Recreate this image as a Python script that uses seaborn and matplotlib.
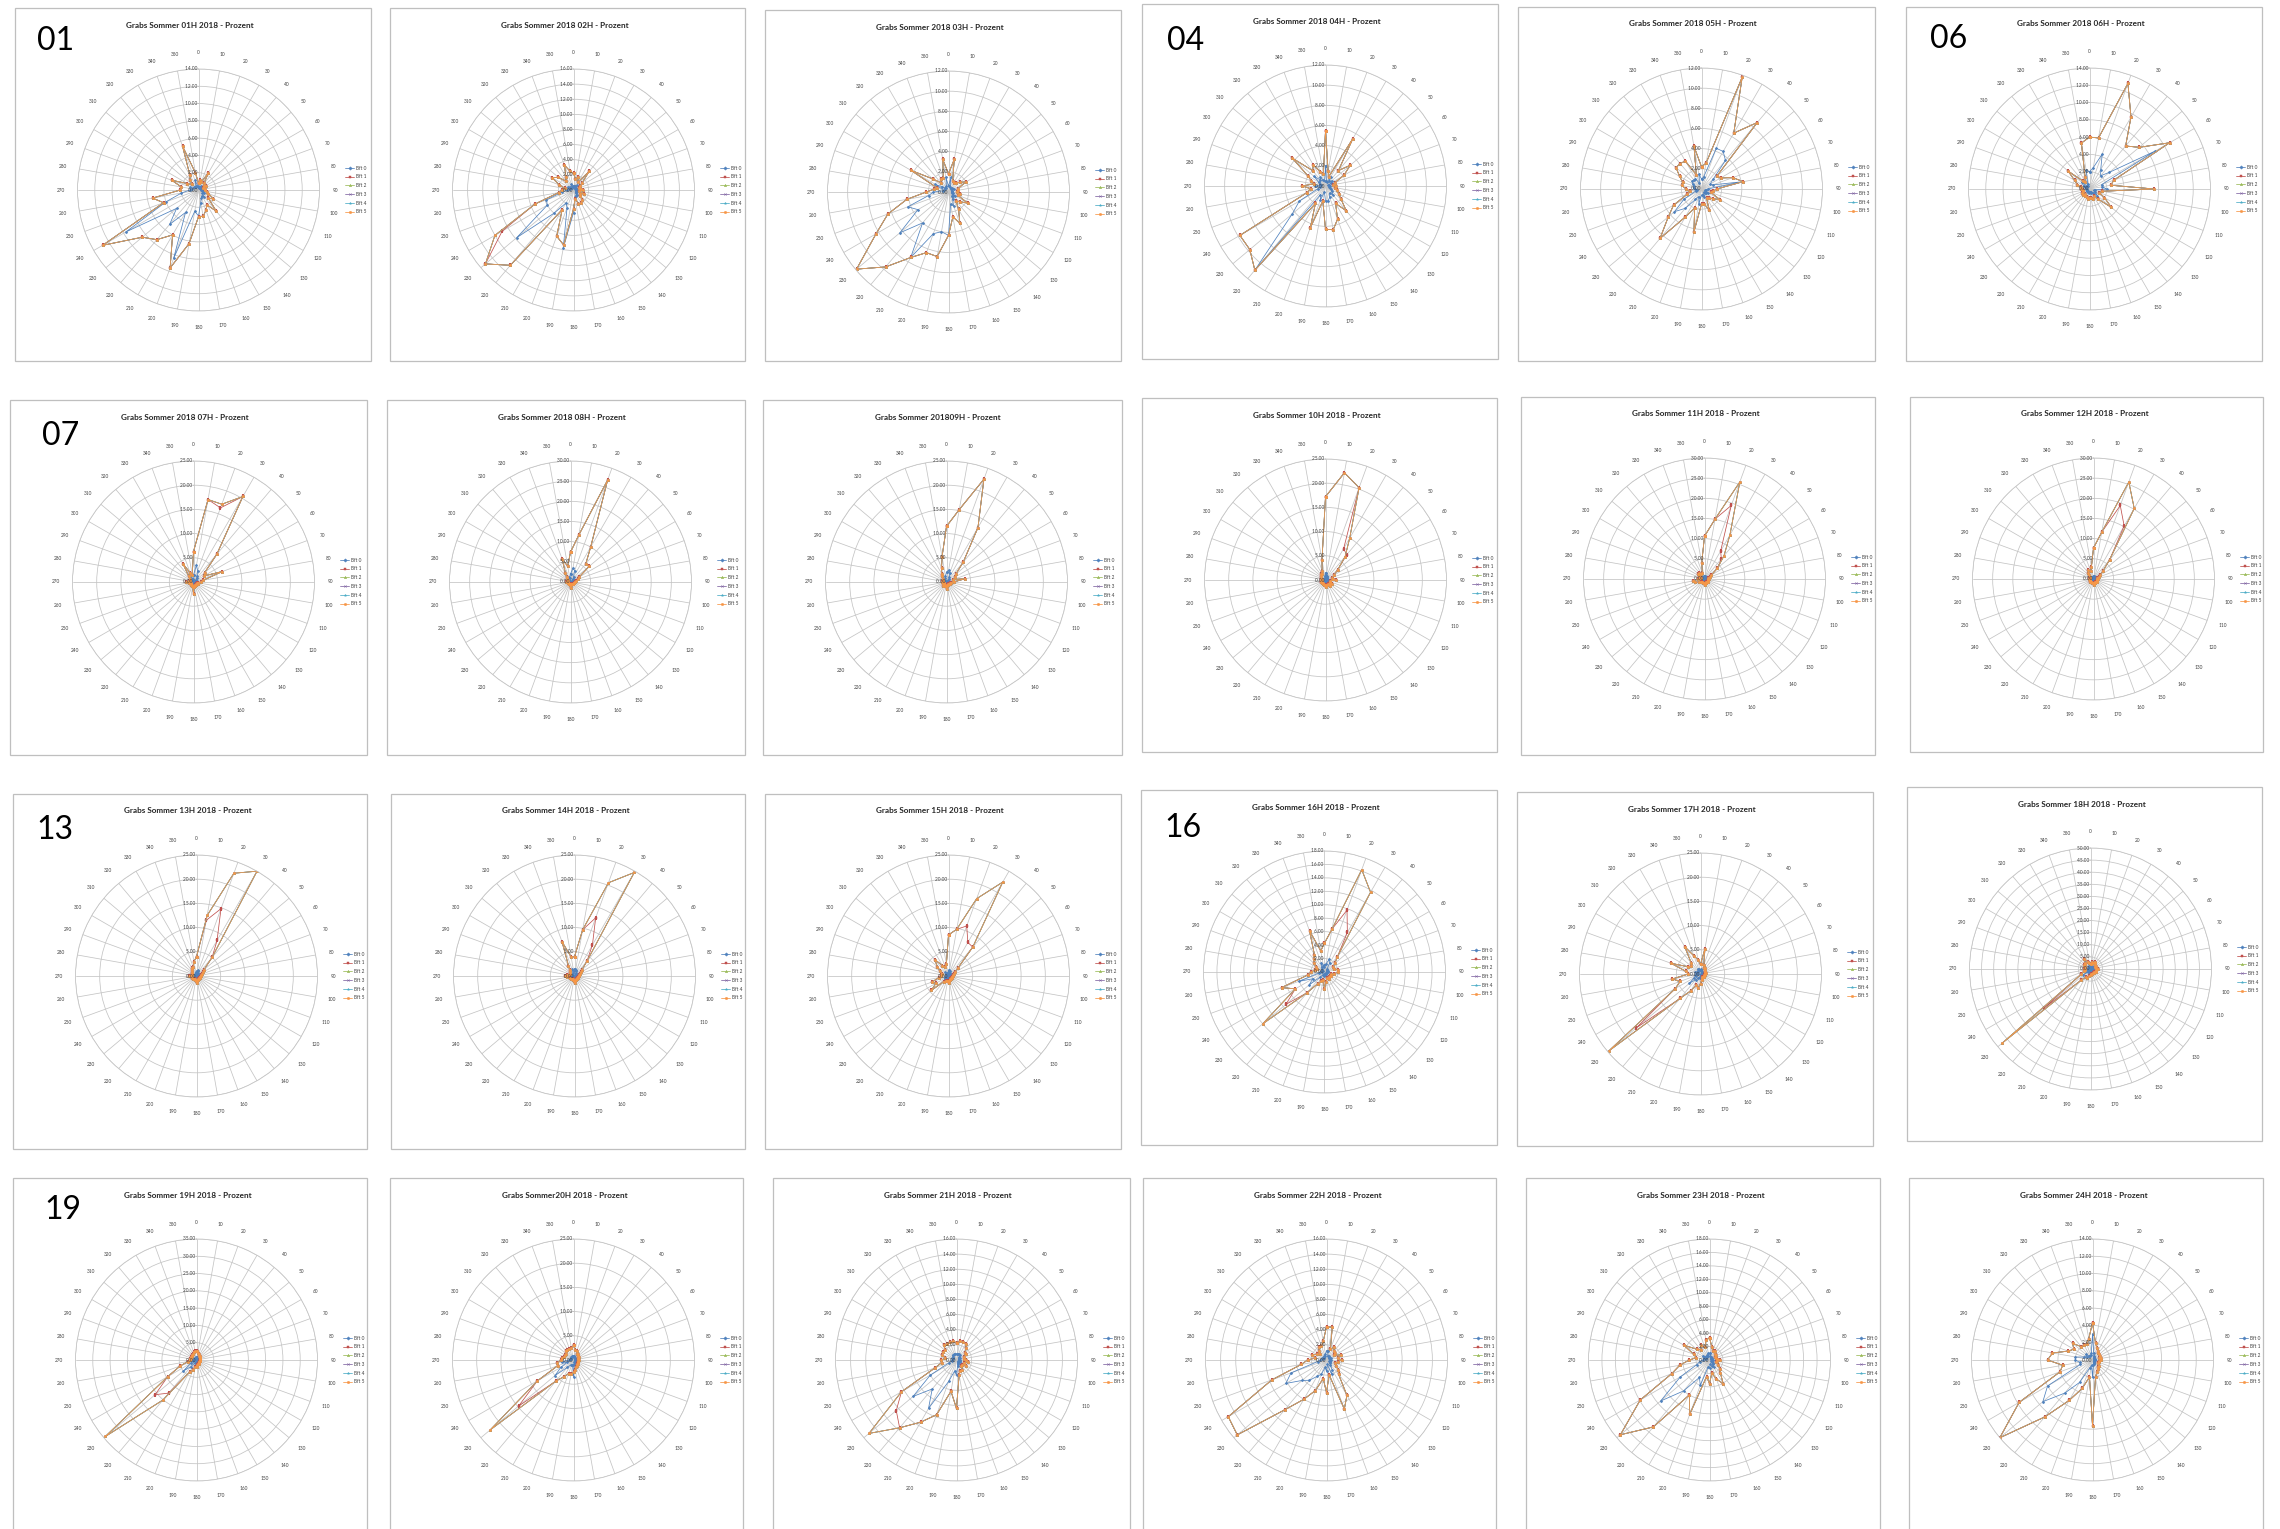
import numpy as np
import matplotlib
matplotlib.use('Agg')
import matplotlib.pyplot as plt
from matplotlib.patches import Rectangle
from matplotlib.lines import Line2D
import seaborn as sns

sns.set_style('white')
plt.rcParams['font.family'] = ['Lato', 'DejaVu Sans']

W, H = 2280, 1529
R = 121  # radius of each radar circle in pixels

DIRECTIONS = list(range(0, 360, 10))
BFT_LABELS = ['Bft 0', 'Bft 1', 'Bft 2', 'Bft 3', 'Bft 4', 'Bft 5']
BFT_COLORS = ['#4F81BD', '#C0504D', '#9BBB59', '#8064A2', '#4BACC6', '#F79646']
BFT_MARKERS = ['D', 's', '^', 'x', '*', 'o']

HOURS = ['01', '02', '03', '04', '05', '06', '07', '08', '09', '10', '11', '12',
         '13', '14', '15', '16', '17', '18', '19', '20', '21', '22', '23', '24']
TITLES = [
    'Grabs Sommer 01H 2018 - Prozent', 'Grabs Sommer 2018 02H - Prozent',
    'Grabs Sommer 2018 03H - Prozent', 'Grabs Sommer 2018 04H - Prozent',
    'Grabs Sommer 2018 05H - Prozent', 'Grabs Sommer 2018 06H - Prozent',
    'Grabs Sommer 2018 07H - Prozent', 'Grabs Sommer 2018 08H - Prozent',
    'Grabs Sommer 201809H - Prozent', 'Grabs Sommer 10H 2018 - Prozent',
    'Grabs Sommer 11H 2018 - Prozent', 'Grabs Sommer 12H 2018 - Prozent',
    'Grabs Sommer 13H 2018 - Prozent', 'Grabs Sommer 14H 2018 - Prozent',
    'Grabs Sommer 15H 2018 - Prozent', 'Grabs Sommer 16H 2018 - Prozent',
    'Grabs Sommer 17H 2018 - Prozent', 'Grabs Sommer 18H 2018 - Prozent',
    'Grabs Sommer 19H 2018 - Prozent', 'Grabs Sommer20H 2018 - Prozent',
    'Grabs Sommer 21H 2018 - Prozent', 'Grabs Sommer 22H 2018 - Prozent',
    'Grabs Sommer 23H 2018 - Prozent', 'Grabs Sommer 24H 2018 - Prozent',
]
AXIS_MAX = [14, 16, 12, 12, 12, 14, 25, 30, 25, 25, 30, 30,
            25, 25, 25, 18, 25, 50, 35, 25, 16, 16, 18, 14]
AXIS_STEP = [2, 2, 2, 2, 2, 2, 5, 5, 5, 5, 5, 5,
             5, 5, 5, 2, 5, 5, 5, 5, 2, 2, 2, 2]

# handwritten hour numbers on some screenshots
BIG_LABELS = {'01': (22, 42), '04': (25, 46), '06': (24, 41), '07': (32, 45),
              '13': (23, 45), '16': (23, 47), '19': (31, 41)}

# percent per direction (0..350 deg), Bft 0 and Bft 5; Bft 1-4 lie under Bft 5
H01_BFT0 = [0.3, 0.4, 0.3, 0.5, 0.3, 0.3, 0.4, 0.3, 0.3, 0.4, 0.5, 0.5, 0.8, 0.6, 1.0, 0.8, 1.0, 1.5, 3.0, 2.5, 8.4, 3.0, 5.2, 3.3, 9.7, 4.0, 2.0, 1.0, 0.8, 1.0, 0.6, 0.5, 0.5, 0.6, 1.2, 0.5]
H01_BFT5 = [0.8, 1.2, 1.0, 2.3, 1.0, 0.8, 1.0, 0.6, 0.8, 0.8, 1.0, 1.2, 2.0, 1.5, 3.2, 2.0, 2.5, 3.1, 3.1, 6.3, 9.6, 6.0, 7.5, 8.5, 12.8, 4.3, 5.4, 2.1, 2.0, 3.3, 1.5, 1.0, 1.5, 2.0, 5.4, 2.0]
H02_BFT0 = [0.5, 0.4, 0.5, 0.4, 0.8, 0.4, 0.3, 0.3, 0.4, 0.5, 0.4, 0.5, 0.4, 0.5, 0.6, 0.8, 0.8, 1.0, 3.0, 7.8, 2.5, 2.0, 4.0, 9.8, 4.0, 3.8, 1.5, 0.8, 0.5, 0.6, 0.8, 0.6, 0.4, 0.5, 0.8, 0.6]
H02_BFT5 = [2.2, 1.5, 1.8, 1.2, 3.2, 1.5, 1.0, 0.8, 1.0, 1.2, 0.8, 1.5, 1.0, 1.2, 1.8, 2.0, 1.9, 1.2, 2.5, 7.4, 6.5, 3.0, 13.0, 15.2, 12.0, 5.4, 2.0, 1.5, 1.2, 2.0, 3.3, 2.6, 1.5, 2.0, 3.5, 2.5]
H03_BFT0 = [0.6, 1.5, 0.5, 0.4, 0.5, 0.5, 0.6, 0.4, 0.4, 0.3, 0.5, 0.4, 0.8, 0.6, 0.5, 0.8, 1.5, 1.2, 4.3, 4.0, 4.4, 7.5, 4.0, 6.3, 3.5, 4.3, 2.0, 1.5, 0.6, 0.5, 1.5, 0.8, 0.5, 0.5, 0.6, 1.5]
H03_BFT5 = [1.8, 3.3, 1.2, 1.0, 1.2, 1.5, 2.0, 1.0, 1.0, 0.8, 1.2, 1.0, 2.2, 1.5, 1.2, 2.0, 3.3, 2.5, 4.3, 6.5, 6.4, 7.5, 9.7, 11.9, 8.3, 6.4, 4.2, 2.2, 1.5, 1.2, 4.3, 2.0, 1.2, 1.5, 1.5, 3.3]
H04_BFT0 = [2.0, 0.5, 0.4, 1.0, 0.6, 0.8, 0.6, 0.4, 0.3, 0.4, 0.4, 0.5, 0.6, 0.8, 1.2, 0.8, 1.2, 1.5, 1.5, 0.6, 1.5, 1.0, 10.9, 4.3, 3.0, 0.8, 0.6, 1.0, 0.5, 0.6, 0.8, 1.5, 0.8, 1.0, 0.6, 0.5]
H04_BFT5 = [5.5, 1.5, 1.0, 5.4, 2.0, 3.2, 2.1, 1.0, 0.8, 1.0, 1.0, 1.2, 1.5, 2.0, 3.2, 2.0, 3.5, 4.4, 4.3, 1.5, 4.4, 2.0, 10.9, 9.8, 9.8, 2.0, 1.5, 2.3, 1.2, 1.5, 2.0, 4.3, 2.0, 2.4, 1.5, 1.2]
H05_BFT0 = [1.0, 1.2, 4.3, 4.3, 3.7, 1.5, 1.0, 1.2, 4.2, 0.6, 0.5, 0.4, 0.8, 0.6, 0.5, 0.4, 0.8, 0.6, 0.6, 1.5, 0.8, 1.2, 2.5, 3.5, 2.0, 0.6, 0.5, 0.6, 0.8, 0.8, 1.0, 1.2, 1.2, 1.2, 0.6, 1.5]
H05_BFT5 = [2.2, 2.6, 11.8, 6.4, 8.6, 2.0, 2.2, 3.3, 4.2, 1.5, 1.2, 1.0, 2.1, 1.5, 1.2, 1.0, 2.2, 1.5, 1.5, 4.3, 2.0, 3.2, 6.4, 4.3, 3.2, 1.5, 1.2, 1.5, 2.0, 2.0, 2.5, 3.3, 3.3, 3.2, 1.5, 4.3]
H06_BFT0 = [2.0, 2.5, 4.3, 2.6, 2.0, 3.0, 8.8, 1.5, 1.5, 2.0, 0.6, 0.5, 0.8, 1.2, 0.6, 0.4, 0.5, 0.4, 0.4, 0.5, 0.4, 0.4, 0.3, 0.4, 0.4, 0.3, 0.3, 0.4, 0.4, 0.6, 0.8, 1.2, 0.5, 0.4, 0.6, 2.2]
H06_BFT5 = [6.0, 6.0, 13.0, 9.6, 6.5, 7.5, 10.7, 3.0, 2.5, 7.5, 1.5, 1.2, 2.0, 3.3, 1.5, 1.0, 1.2, 1.0, 1.0, 1.2, 1.0, 1.0, 0.8, 1.0, 1.0, 0.8, 0.8, 1.0, 1.0, 1.5, 2.0, 3.2, 1.2, 1.0, 1.5, 5.4]
H07_BFT0 = [1.5, 3.5, 2.5, 1.5, 1.0, 0.6, 0.5, 0.8, 0.5, 0.4, 0.3, 0.3, 0.3, 0.3, 0.3, 0.2, 0.3, 0.3, 0.8, 0.3, 0.3, 0.3, 0.3, 0.2, 0.2, 0.3, 0.3, 0.5, 0.3, 0.3, 0.3, 0.3, 0.5, 1.0, 0.6, 0.5]
H07_BFT5 = [6.3, 17.3, 17.1, 20.4, 7.5, 3.0, 2.5, 6.3, 2.0, 1.5, 1.0, 0.8, 1.0, 0.8, 0.8, 0.6, 0.8, 1.0, 2.5, 1.0, 0.8, 0.8, 0.8, 0.6, 0.6, 0.8, 1.0, 1.5, 1.0, 0.8, 0.8, 1.0, 1.5, 4.3, 2.0, 1.5]
H08_BFT0 = [2.0, 3.5, 3.0, 1.5, 1.0, 0.8, 0.5, 0.4, 0.3, 0.3, 0.3, 0.2, 0.2, 0.2, 0.2, 0.2, 0.2, 0.2, 0.5, 0.2, 0.2, 0.2, 0.2, 0.2, 0.2, 0.2, 0.2, 0.3, 0.2, 0.2, 0.2, 0.3, 0.4, 0.6, 1.2, 1.0]
H08_BFT5 = [7.4, 11.8, 26.9, 10.0, 5.9, 6.1, 2.5, 2.0, 1.5, 1.0, 1.0, 0.8, 0.8, 0.6, 0.8, 0.6, 0.6, 0.8, 1.5, 0.8, 0.6, 0.6, 0.6, 0.6, 0.6, 0.6, 0.6, 1.0, 0.8, 0.8, 0.8, 1.0, 1.5, 2.5, 6.0, 4.0]
H09_BFT0 = [2.0, 2.5, 2.0, 1.2, 0.8, 0.5, 0.4, 0.3, 0.6, 0.3, 0.3, 0.2, 0.2, 0.2, 0.2, 0.2, 0.2, 0.2, 0.5, 0.2, 0.2, 0.2, 0.3, 0.2, 0.2, 0.2, 0.2, 0.3, 0.2, 0.2, 0.2, 0.3, 0.4, 0.5, 0.8, 1.2]
H09_BFT5 = [11.5, 15.2, 22.6, 13.0, 5.4, 2.5, 2.0, 1.5, 3.9, 1.5, 1.0, 0.8, 0.8, 0.8, 0.6, 0.6, 0.6, 0.8, 1.5, 0.8, 0.8, 0.8, 1.0, 0.8, 0.8, 0.6, 0.6, 1.0, 0.8, 0.8, 0.8, 1.0, 1.5, 2.0, 3.0, 5.3]
H10_BFT0 = [1.5, 1.0, 0.8, 0.6, 0.5, 0.4, 0.3, 0.3, 0.3, 0.4, 0.2, 0.2, 0.3, 0.3, 0.3, 0.2, 0.3, 0.2, 0.3, 0.2, 0.3, 0.2, 0.2, 0.2, 0.2, 0.2, 0.2, 0.2, 0.2, 0.2, 0.2, 0.3, 0.3, 0.3, 0.4, 0.8]
H10_BFT5 = [17.2, 22.5, 20.3, 10.0, 6.3, 3.3, 2.0, 1.5, 1.5, 2.1, 1.0, 1.0, 1.5, 1.2, 1.5, 1.0, 1.2, 1.0, 1.5, 1.0, 1.2, 1.0, 0.8, 1.0, 1.0, 1.0, 0.8, 1.0, 1.0, 0.8, 1.0, 1.2, 1.5, 1.5, 2.0, 4.2]
H11_BFT0 = [0.8, 0.6, 0.5, 0.4, 0.3, 0.3, 0.2, 0.2, 0.2, 0.2, 0.2, 0.2, 0.2, 0.3, 0.2, 0.2, 0.2, 0.3, 0.4, 0.3, 0.3, 0.3, 0.3, 0.3, 0.4, 0.6, 0.8, 0.4, 0.3, 0.3, 0.4, 0.5, 0.5, 0.4, 0.4, 0.8]
H11_BFT5 = [10.6, 15.1, 25.6, 12.6, 7.5, 4.2, 2.0, 1.5, 1.0, 1.0, 0.8, 0.8, 1.0, 1.2, 1.0, 0.8, 1.0, 1.2, 1.5, 1.0, 1.0, 1.0, 1.0, 1.2, 1.5, 2.5, 3.0, 1.5, 1.2, 1.0, 1.5, 2.0, 2.0, 1.5, 1.5, 4.0]
H12_BFT0 = [0.8, 0.6, 0.5, 0.5, 0.3, 0.3, 0.2, 0.2, 0.2, 0.2, 0.2, 0.2, 0.2, 0.2, 0.2, 0.2, 0.2, 0.2, 0.4, 0.2, 0.2, 0.2, 0.2, 0.2, 0.2, 0.2, 0.2, 0.3, 0.2, 0.2, 0.2, 0.3, 0.5, 0.6, 0.5, 0.6]
H12_BFT5 = [7.7, 11.8, 25.6, 20.2, 6.2, 3.0, 2.0, 1.5, 1.0, 1.0, 0.8, 0.8, 1.0, 1.0, 1.0, 0.8, 1.0, 1.0, 1.5, 1.0, 1.0, 1.0, 1.0, 1.0, 1.0, 1.0, 1.0, 1.2, 1.0, 1.0, 1.0, 1.5, 2.0, 2.5, 2.0, 3.0]
H13_BFT0 = [1.0, 1.2, 1.0, 0.8, 0.5, 0.3, 0.3, 0.2, 0.2, 0.2, 0.2, 0.2, 0.2, 0.2, 0.2, 0.2, 0.2, 0.2, 0.4, 0.2, 0.2, 0.2, 0.2, 0.2, 0.2, 0.2, 0.2, 0.4, 0.2, 0.2, 0.2, 0.3, 0.4, 0.5, 0.5, 0.8]
H13_BFT5 = [4.0, 12.7, 22.6, 25.0, 5.0, 2.0, 1.5, 1.2, 1.0, 1.0, 0.8, 0.8, 0.8, 0.8, 0.8, 0.8, 0.8, 1.0, 1.5, 1.0, 0.8, 0.8, 0.8, 1.0, 1.0, 1.0, 1.0, 1.5, 1.0, 1.0, 1.0, 1.2, 1.5, 2.0, 2.0, 3.0]
H14_BFT0 = [1.5, 1.2, 1.0, 0.8, 0.5, 0.3, 0.3, 0.2, 0.2, 0.2, 0.2, 0.2, 0.2, 0.2, 0.2, 0.2, 0.2, 0.2, 0.4, 0.2, 0.2, 0.2, 0.2, 0.2, 0.2, 0.2, 0.3, 0.5, 0.3, 0.2, 0.2, 0.3, 0.4, 0.6, 1.5, 1.0]
H14_BFT5 = [4.0, 9.7, 20.5, 24.7, 4.0, 2.0, 1.5, 1.2, 1.0, 1.0, 0.8, 0.8, 0.8, 0.8, 0.8, 0.8, 0.8, 1.0, 1.5, 1.0, 0.8, 0.8, 0.8, 1.0, 1.0, 1.0, 1.5, 2.0, 1.5, 1.0, 1.0, 1.2, 1.5, 2.5, 7.5, 4.0]
H15_BFT0 = [1.2, 1.0, 1.0, 0.8, 0.6, 0.4, 0.3, 0.2, 0.2, 0.2, 0.2, 0.2, 0.2, 0.2, 0.2, 0.2, 0.2, 0.2, 0.4, 0.2, 0.2, 0.3, 0.4, 1.0, 0.8, 0.8, 0.5, 0.4, 0.4, 0.4, 0.5, 0.6, 1.0, 0.6, 0.5, 0.6]
H15_BFT5 = [8.5, 9.8, 17.0, 22.4, 7.8, 2.5, 1.5, 1.2, 1.0, 1.0, 0.8, 0.8, 0.8, 0.8, 0.8, 0.8, 0.8, 1.0, 1.5, 1.0, 1.0, 1.2, 1.5, 4.6, 3.0, 3.7, 2.0, 1.5, 1.5, 1.5, 2.0, 3.0, 4.4, 2.5, 2.0, 2.5]
H16_BFT0 = [1.0, 1.2, 2.0, 1.5, 0.6, 0.5, 0.4, 0.4, 0.5, 0.5, 0.4, 0.3, 0.3, 0.3, 0.3, 0.3, 0.3, 0.4, 0.6, 0.3, 0.4, 0.5, 1.0, 3.0, 2.0, 4.1, 0.8, 0.6, 0.4, 0.3, 0.4, 0.5, 0.6, 0.8, 1.5, 0.8]
H16_BFT5 = [4.3, 6.5, 16.2, 13.7, 3.0, 2.0, 1.5, 1.5, 2.0, 2.0, 1.5, 1.0, 1.2, 1.0, 1.0, 1.2, 1.0, 1.5, 2.5, 1.2, 1.5, 2.0, 4.0, 12.0, 5.0, 6.8, 2.5, 2.0, 1.5, 1.2, 1.5, 2.0, 2.5, 3.0, 6.5, 3.2]
H17_BFT0 = [0.8, 1.0, 0.6, 0.5, 0.5, 0.4, 0.3, 0.3, 0.4, 0.3, 0.3, 0.2, 0.2, 0.3, 0.2, 0.2, 0.3, 0.3, 0.6, 0.8, 0.6, 1.0, 1.5, 3.0, 1.5, 1.0, 1.2, 0.6, 0.8, 1.2, 0.8, 0.6, 0.8, 1.2, 1.0, 0.8]
H17_BFT5 = [2.0, 5.3, 2.0, 1.5, 1.5, 1.2, 1.0, 1.0, 1.2, 1.0, 1.0, 0.8, 0.8, 1.0, 0.8, 0.8, 1.0, 1.2, 2.0, 3.0, 2.5, 4.0, 6.6, 24.7, 6.0, 4.5, 5.9, 2.5, 3.0, 6.5, 3.0, 2.5, 3.0, 6.5, 4.0, 3.0]
H18_BFT0 = [0.8, 1.0, 1.0, 1.2, 1.0, 0.8, 0.8, 0.6, 0.8, 1.0, 0.8, 0.8, 0.8, 0.6, 0.6, 0.6, 0.6, 0.6, 0.8, 1.0, 1.2, 1.2, 1.5, 4.0, 1.2, 1.0, 0.8, 0.8, 0.8, 0.8, 1.0, 1.0, 1.0, 1.5, 1.0, 0.8]
H18_BFT5 = [2.0, 3.0, 2.5, 3.5, 3.0, 2.5, 2.5, 2.0, 2.5, 3.0, 2.5, 2.5, 2.5, 2.0, 2.0, 2.0, 2.0, 2.0, 2.5, 3.0, 4.0, 4.0, 6.0, 47.7, 4.5, 3.0, 2.5, 2.5, 2.5, 2.5, 3.0, 3.0, 3.5, 5.0, 3.0, 2.5]
H19_BFT0 = [0.8, 0.6, 0.6, 0.5, 0.5, 0.4, 0.4, 0.3, 0.3, 0.3, 0.3, 0.3, 0.3, 0.3, 0.3, 0.4, 0.4, 0.5, 0.6, 0.6, 0.8, 1.0, 2.5, 5.0, 2.0, 1.2, 0.8, 0.6, 0.6, 0.5, 0.5, 0.5, 0.6, 0.6, 0.8, 0.8]
H19_BFT5 = [2.5, 2.0, 2.0, 1.5, 1.5, 1.2, 1.2, 1.0, 1.0, 1.0, 1.0, 1.0, 1.0, 1.0, 1.0, 1.2, 1.2, 1.5, 2.0, 2.0, 3.0, 4.0, 15.1, 34.4, 9.6, 5.0, 2.5, 2.0, 2.0, 1.8, 1.8, 1.8, 2.0, 2.0, 2.5, 2.5]
H20_BFT0 = [0.8, 0.6, 0.6, 0.5, 0.5, 0.4, 0.4, 0.3, 0.3, 0.4, 0.3, 0.3, 0.3, 0.4, 0.4, 0.5, 0.5, 0.8, 3.5, 1.0, 1.0, 1.2, 2.0, 5.0, 3.0, 1.5, 2.5, 1.0, 0.8, 0.6, 0.6, 0.6, 0.8, 0.8, 0.8, 0.8]
H20_BFT5 = [3.0, 2.0, 2.0, 1.5, 1.5, 1.2, 1.2, 1.0, 1.0, 1.2, 1.0, 1.0, 1.0, 1.2, 1.2, 1.5, 1.5, 2.0, 2.5, 3.0, 3.0, 4.0, 5.7, 22.4, 8.6, 3.5, 3.5, 2.5, 2.5, 2.0, 2.0, 2.0, 2.5, 2.5, 2.5, 2.5]
H21_BFT0 = [0.8, 0.8, 0.8, 0.8, 0.6, 0.5, 0.5, 0.3, 0.3, 0.4, 0.5, 0.3, 0.5, 0.3, 0.3, 0.5, 0.5, 0.8, 2.0, 1.5, 3.0, 7.4, 5.0, 7.5, 4.0, 1.0, 0.6, 0.6, 0.5, 0.6, 0.6, 0.6, 0.8, 0.8, 0.8, 0.8]
H21_BFT5 = [2.3, 2.5, 2.5, 2.5, 2.0, 1.5, 1.5, 1.0, 1.0, 1.2, 1.5, 1.0, 1.5, 1.0, 1.0, 1.5, 1.5, 2.0, 6.4, 4.2, 7.7, 9.5, 11.7, 15.1, 8.4, 3.0, 2.0, 2.0, 1.5, 2.0, 2.0, 2.0, 2.6, 2.5, 2.5, 2.5]
H22_BFT0 = [1.2, 1.2, 0.5, 0.6, 0.5, 0.5, 0.4, 0.6, 0.5, 0.6, 0.5, 0.4, 0.5, 0.6, 0.8, 1.5, 2.0, 0.6, 1.5, 1.0, 2.0, 2.5, 3.5, 4.2, 6.2, 5.0, 1.2, 0.8, 0.5, 0.6, 0.5, 0.4, 0.5, 0.6, 0.6, 0.8]
H22_BFT5 = [4.4, 4.4, 1.5, 2.0, 1.5, 1.5, 1.2, 2.0, 1.5, 2.0, 1.5, 1.2, 1.5, 2.0, 2.5, 5.4, 6.9, 2.0, 4.3, 2.5, 4.3, 6.0, 8.6, 15.4, 15.0, 7.7, 3.4, 2.5, 1.5, 2.0, 1.5, 1.2, 1.5, 2.0, 2.0, 2.5]
H23_BFT0 = [1.0, 0.6, 0.5, 0.5, 0.4, 0.4, 0.3, 0.3, 0.4, 0.5, 0.4, 0.3, 0.5, 0.6, 0.8, 1.2, 1.0, 0.6, 1.2, 1.0, 4.0, 3.0, 6.0, 9.5, 5.0, 2.0, 1.5, 1.0, 0.6, 0.8, 1.2, 0.8, 0.6, 0.8, 0.6, 1.0]
H23_BFT5 = [3.3, 2.0, 1.5, 1.5, 1.2, 1.2, 1.0, 1.0, 1.2, 1.5, 1.2, 1.0, 1.5, 2.0, 2.5, 4.1, 3.0, 2.0, 3.5, 2.5, 8.6, 6.0, 13.0, 17.3, 11.9, 6.0, 4.5, 3.0, 2.0, 2.5, 4.4, 2.5, 2.0, 2.5, 2.0, 3.0]
H24_BFT0 = [3.0, 0.8, 0.5, 0.4, 0.3, 0.3, 0.3, 0.2, 0.3, 0.3, 0.2, 0.2, 0.2, 0.3, 0.3, 0.4, 0.5, 0.6, 2.0, 0.6, 1.0, 3.0, 5.0, 7.5, 6.0, 1.5, 1.5, 2.0, 2.0, 1.0, 0.8, 1.0, 0.6, 0.6, 0.6, 0.8]
H24_BFT5 = [4.3, 2.0, 1.5, 1.2, 1.0, 1.0, 1.0, 0.8, 1.0, 1.0, 0.8, 0.8, 0.8, 1.0, 1.0, 1.2, 1.5, 2.0, 7.6, 2.0, 3.5, 5.4, 8.6, 14.0, 9.8, 4.0, 3.5, 5.2, 4.7, 3.0, 2.5, 3.0, 2.0, 2.0, 2.0, 2.5]

# directions where Bft 1 (red) visibly leaves the Bft 5 line
BFT1_DIFF = {
    '02': {240: 10.9}, '07': {20: 16.3}, '10': {30: 7.5, 40: 6.8},
    '11': {20: 19.4, 30: 8.0, 40: 6.5}, '12': {20: 19.4, 30: 15.2},
    '13': {10: 11.7, 20: 14.8, 30: 8.5}, '14': {20: 12.8, 30: 7.4},
    '15': {20: 11.0, 30: 8.0}, '16': {20: 9.8, 30: 6.8, 230: 7.5},
    '17': {230: 17.3}, '18': {230: 25.3}, '19': {220: 12.5, 230: 15.6},
    '20': {230: 14.8}, '21': {230: 10.4},
}

BFT0 = [H01_BFT0, H02_BFT0, H03_BFT0, H04_BFT0, H05_BFT0, H06_BFT0, H07_BFT0, H08_BFT0,
        H09_BFT0, H10_BFT0, H11_BFT0, H12_BFT0, H13_BFT0, H14_BFT0, H15_BFT0, H16_BFT0,
        H17_BFT0, H18_BFT0, H19_BFT0, H20_BFT0, H21_BFT0, H22_BFT0, H23_BFT0, H24_BFT0]
BFT5 = [H01_BFT5, H02_BFT5, H03_BFT5, H04_BFT5, H05_BFT5, H06_BFT5, H07_BFT5, H08_BFT5,
        H09_BFT5, H10_BFT5, H11_BFT5, H12_BFT5, H13_BFT5, H14_BFT5, H15_BFT5, H16_BFT5,
        H17_BFT5, H18_BFT5, H19_BFT5, H20_BFT5, H21_BFT5, H22_BFT5, H23_BFT5, H24_BFT5]

# screenshot frames in pixels (x0, y0, x1, y1)
PANEL_BOXES = [
    (15, 8, 371, 361), (390, 8, 745, 361), (765, 10, 1121, 361),
    (1142, 4, 1498, 359), (1518, 7, 1875, 361), (1906, 7, 2262, 361),
    (10, 400, 367, 755), (387, 400, 745, 755), (763, 400, 1122, 755),
    (1142, 398, 1497, 752), (1521, 397, 1875, 755), (1910, 397, 2263, 752),
    (13, 794, 367, 1149), (391, 794, 745, 1149), (765, 794, 1121, 1149),
    (1141, 790, 1497, 1145), (1517, 792, 1873, 1146), (1907, 787, 2262, 1141),
    (13, 1178, 367, 1545), (390, 1178, 743, 1545), (773, 1178, 1130, 1545),
    (1143, 1178, 1496, 1545), (1526, 1178, 1880, 1545), (1909, 1178, 2263, 1545),
]

TEXT_GREY = '#404040'
GRID_GREY = '#C4C4C4'

fig = plt.figure(figsize=(W / 100, H / 100), dpi=100)


def fig_xy(x, y):
    return x / W, 1 - y / H


theta = np.deg2rad(DIRECTIONS + [360])

for i, hour in enumerate(HOURS):
    x0, y0, x1, y1 = PANEL_BOXES[i]
    fig.add_artist(Rectangle(fig_xy(x0, y1), (x1 - x0) / W, (y1 - y0) / H,
                             transform=fig.transFigure, fill=False,
                             ec='#BFBFBF', lw=0.9))
    cx, cy = x0 + 183.5, y0 + 182
    ax = fig.add_axes([(cx - R) / W, 1 - (cy + R) / H, 2 * R / W, 2 * R / H],
                      projection='polar')
    ax.set_theta_zero_location('N')
    ax.set_theta_direction(-1)

    b5 = BFT5[i]
    b1 = [BFT1_DIFF.get(hour, {}).get(d, v) for d, v in zip(DIRECTIONS, b5)]
    series = [BFT0[i], b1, b5, b5, b5, b5]
    for k in range(6):
        vals = list(series[k]) + [series[k][0]]
        sns.lineplot(x=theta, y=vals, ax=ax, sort=False, estimator=None,
                     color=BFT_COLORS[k], lw=0.55, marker=BFT_MARKERS[k],
                     markersize=1.4 if k == 0 else 1.7,
                     markeredgecolor=BFT_COLORS[k],
                     markeredgewidth=0.35, legend=False)

    rmax, step = AXIS_MAX[i], AXIS_STEP[i]
    rticks = np.arange(0, rmax + 0.001, step)
    ax.set_ylim(0, rmax)
    ax.set_yticks(rticks)
    ax.set_yticklabels([])
    ax.set_xticks(np.deg2rad(DIRECTIONS))
    ax.set_xticklabels([str(d) for d in DIRECTIONS], fontsize=3.4, color=TEXT_GREY)
    ax.tick_params(axis='x', pad=1.2)
    ax.set_xlabel('')
    ax.set_ylabel('')
    ax.grid(True, color=GRID_GREY, lw=0.55)
    ax.spines['polar'].set_color(GRID_GREY)
    ax.spines['polar'].set_linewidth(0.55)
    for v in rticks:
        ax.text(0, v, f'{v:.2f} ', ha='right', va='center', fontsize=3.4,
                color=TEXT_GREY)

    handles = [Line2D([], [], color=c, marker=m, markersize=1.7, lw=0.55,
                      markeredgecolor=c, markeredgewidth=0.35)
               for c, m in zip(BFT_COLORS, BFT_MARKERS)]
    leg = ax.legend(handles, BFT_LABELS, loc='center left',
                    bbox_to_anchor=(1.105, 0.5), frameon=False, fontsize=3.4,
                    handlelength=2.0, handletextpad=0.4, labelspacing=0.8,
                    borderaxespad=0, borderpad=0)
    for t in leg.get_texts():
        t.set_color(TEXT_GREY)

    tx, ty = fig_xy(x0 + 175, y0 + 17)
    fig.text(tx, ty, TITLES[i], ha='center', va='center', fontsize=5.9,
             fontweight='bold', color='#262626')

    if hour in BIG_LABELS:
        bx, by = BIG_LABELS[hour]
        nx, ny = fig_xy(x0 + bx, y0 + by)
        fig.text(nx, ny, hour, ha='left', va='baseline', fontsize=23,
                 fontweight='normal', color='black')

fig.savefig('out.png', dpi=100, facecolor='white')
